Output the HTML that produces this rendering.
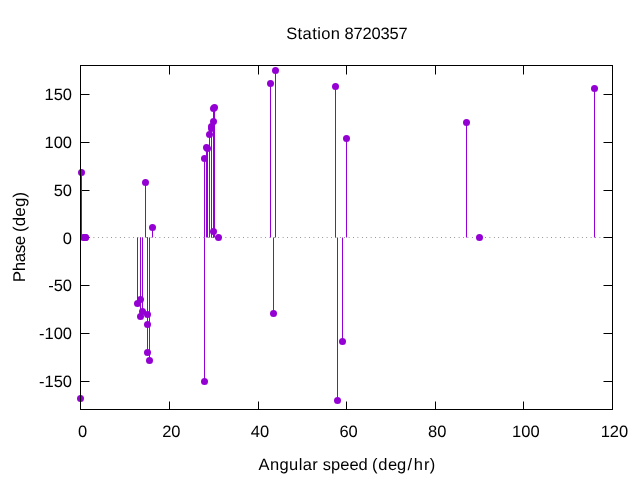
<!DOCTYPE html>
<html lang="en">
<head>
<meta charset="utf-8">
<title>Station 8720357</title>
<style>
html,body{margin:0;padding:0;background:#fff;}
body{width:640px;height:480px;overflow:hidden;}
svg{display:block;}
text{font-family:"Liberation Sans",sans-serif;font-size:16.5px;fill:#000;text-rendering:geometricPrecision;}
</style>
</head>
<body>
<svg width="640" height="480" viewBox="0 0 640 480">
<rect x="0" y="0" width="640" height="480" fill="#ffffff"/>
<g stroke="#000" stroke-width="1" fill="none">
<line x1="80.5" y1="381.5" x2="89.5" y2="381.5"/>
<line x1="612.5" y1="381.5" x2="603.5" y2="381.5"/>
<line x1="80.5" y1="333.5" x2="89.5" y2="333.5"/>
<line x1="612.5" y1="333.5" x2="603.5" y2="333.5"/>
<line x1="80.5" y1="285.5" x2="89.5" y2="285.5"/>
<line x1="612.5" y1="285.5" x2="603.5" y2="285.5"/>
<line x1="80.5" y1="237.5" x2="89.5" y2="237.5"/>
<line x1="612.5" y1="237.5" x2="603.5" y2="237.5"/>
<line x1="80.5" y1="190.5" x2="89.5" y2="190.5"/>
<line x1="612.5" y1="190.5" x2="603.5" y2="190.5"/>
<line x1="80.5" y1="142.5" x2="89.5" y2="142.5"/>
<line x1="612.5" y1="142.5" x2="603.5" y2="142.5"/>
<line x1="80.5" y1="94.5" x2="89.5" y2="94.5"/>
<line x1="612.5" y1="94.5" x2="603.5" y2="94.5"/>
<line x1="80.5" y1="409.5" x2="80.5" y2="401.5"/>
<line x1="80.5" y1="65.5" x2="80.5" y2="74.5"/>
<line x1="169.5" y1="409.5" x2="169.5" y2="401.5"/>
<line x1="169.5" y1="65.5" x2="169.5" y2="74.5"/>
<line x1="258.5" y1="409.5" x2="258.5" y2="401.5"/>
<line x1="258.5" y1="65.5" x2="258.5" y2="74.5"/>
<line x1="346.5" y1="409.5" x2="346.5" y2="401.5"/>
<line x1="346.5" y1="65.5" x2="346.5" y2="74.5"/>
<line x1="435.5" y1="409.5" x2="435.5" y2="401.5"/>
<line x1="435.5" y1="65.5" x2="435.5" y2="74.5"/>
<line x1="523.5" y1="409.5" x2="523.5" y2="401.5"/>
<line x1="523.5" y1="65.5" x2="523.5" y2="74.5"/>
<line x1="612.5" y1="409.5" x2="612.5" y2="401.5"/>
<line x1="612.5" y1="65.5" x2="612.5" y2="74.5"/>
</g>
<line x1="80.5" y1="237.5" x2="612.5" y2="237.5" stroke="#000" stroke-opacity="0.58" stroke-width="1" stroke-dasharray="0.7 3.7" stroke-dashoffset="0.15"/>
<g stroke="#9400d3" stroke-width="1" fill="none">
<line x1="80.5" y1="237.5" x2="80.5" y2="398.5"/>
<line x1="81.5" y1="237.5" x2="81.5" y2="172.5"/>
<line x1="137.5" y1="237.5" x2="137.5" y2="303.5"/>
<line x1="140.5" y1="237.5" x2="140.5" y2="299.5"/>
<line x1="140.5" y1="237.5" x2="140.5" y2="316.5"/>
<line x1="142.5" y1="237.5" x2="142.5" y2="311.5"/>
<line x1="145.5" y1="237.5" x2="145.5" y2="182.5"/>
<line x1="147.5" y1="237.5" x2="147.5" y2="314.5"/>
<line x1="147.5" y1="237.5" x2="147.5" y2="352.5"/>
<line x1="147.5" y1="237.5" x2="147.5" y2="324.5"/>
<line x1="149.5" y1="237.5" x2="149.5" y2="360.5"/>
<line x1="152.5" y1="237.5" x2="152.5" y2="227.5"/>
<line x1="204.5" y1="237.5" x2="204.5" y2="158.5"/>
<line x1="204.5" y1="237.5" x2="204.5" y2="381.5"/>
<line x1="206.5" y1="237.5" x2="206.5" y2="147.5"/>
<line x1="207.5" y1="237.5" x2="207.5" y2="148.5"/>
<line x1="209.5" y1="237.5" x2="209.5" y2="134.5"/>
<line x1="211.5" y1="237.5" x2="211.5" y2="126.5"/>
<line x1="211.5" y1="237.5" x2="211.5" y2="128.5"/>
<line x1="213.5" y1="237.5" x2="213.5" y2="121.5"/>
<line x1="213.5" y1="237.5" x2="213.5" y2="108.5"/>
<line x1="213.5" y1="237.5" x2="213.5" y2="231.5"/>
<line x1="214.5" y1="237.5" x2="214.5" y2="107.5"/>
<line x1="270.5" y1="237.5" x2="270.5" y2="83.5"/>
<line x1="273.5" y1="237.5" x2="273.5" y2="313.5"/>
<line x1="275.5" y1="237.5" x2="275.5" y2="70.5"/>
<line x1="335.5" y1="237.5" x2="335.5" y2="86.5"/>
<line x1="337.5" y1="237.5" x2="337.5" y2="400.5"/>
<line x1="342.5" y1="237.5" x2="342.5" y2="341.5"/>
<line x1="346.5" y1="237.5" x2="346.5" y2="138.5"/>
<line x1="466.5" y1="237.5" x2="466.5" y2="122.5"/>
<line x1="594.5" y1="237.5" x2="594.5" y2="88.5"/>
</g>
<g fill="#9400d3" stroke="none">
<circle cx="80.5" cy="398.5" r="3.5"/>
<circle cx="81.5" cy="172.5" r="3.5"/>
<circle cx="83.5" cy="237.5" r="3.5"/>
<circle cx="85.5" cy="237.5" r="3.5"/>
<circle cx="85.5" cy="237.5" r="3.5"/>
<circle cx="137.5" cy="303.5" r="3.5"/>
<circle cx="140.5" cy="299.5" r="3.5"/>
<circle cx="140.5" cy="316.5" r="3.5"/>
<circle cx="142.5" cy="311.5" r="3.5"/>
<circle cx="145.5" cy="182.5" r="3.5"/>
<circle cx="147.5" cy="314.5" r="3.5"/>
<circle cx="147.5" cy="352.5" r="3.5"/>
<circle cx="147.5" cy="324.5" r="3.5"/>
<circle cx="149.5" cy="360.5" r="3.5"/>
<circle cx="152.5" cy="227.5" r="3.5"/>
<circle cx="204.5" cy="158.5" r="3.5"/>
<circle cx="204.5" cy="381.5" r="3.5"/>
<circle cx="206.5" cy="147.5" r="3.5"/>
<circle cx="207.5" cy="148.5" r="3.5"/>
<circle cx="209.5" cy="134.5" r="3.5"/>
<circle cx="211.5" cy="126.5" r="3.5"/>
<circle cx="211.5" cy="128.5" r="3.5"/>
<circle cx="213.5" cy="121.5" r="3.5"/>
<circle cx="213.5" cy="108.5" r="3.5"/>
<circle cx="213.5" cy="231.5" r="3.5"/>
<circle cx="214.5" cy="107.5" r="3.5"/>
<circle cx="218.5" cy="237.5" r="3.5"/>
<circle cx="270.5" cy="83.5" r="3.5"/>
<circle cx="273.5" cy="313.5" r="3.5"/>
<circle cx="275.5" cy="70.5" r="3.5"/>
<circle cx="335.5" cy="86.5" r="3.5"/>
<circle cx="337.5" cy="400.5" r="3.5"/>
<circle cx="342.5" cy="341.5" r="3.5"/>
<circle cx="346.5" cy="138.5" r="3.5"/>
<circle cx="466.5" cy="122.5" r="3.5"/>
<circle cx="479.5" cy="237.5" r="3.5"/>
<circle cx="594.5" cy="88.5" r="3.5"/>
</g>
<g stroke="#000" stroke-width="1" fill="none">
<rect x="80.5" y="65.5" width="532.0" height="344.0"/>
</g>
<text x="72" y="386.93" text-anchor="end">-150</text>
<text x="72" y="339.16" text-anchor="end">-100</text>
<text x="72" y="291.38" text-anchor="end">-50</text>
<text x="72" y="243.60" text-anchor="end">0</text>
<text x="72" y="195.82" text-anchor="end">50</text>
<text x="72" y="148.04" text-anchor="end">100</text>
<text x="72" y="100.27" text-anchor="end">150</text>
<text x="82.70" y="437.1" text-anchor="middle">0</text>
<text x="171.32" y="437.1" text-anchor="middle">20</text>
<text x="259.94" y="437.1" text-anchor="middle">40</text>
<text x="348.56" y="437.1" text-anchor="middle">60</text>
<text x="437.18" y="437.1" text-anchor="middle">80</text>
<text x="525.80" y="437.1" text-anchor="middle">100</text>
<text x="614.42" y="437.1" text-anchor="middle">120</text>
<text y="38.9"><tspan x="286.2" style="letter-spacing:0.41px">Station </tspan><tspan x="344.6" style="letter-spacing:-0.2px">8720357</tspan></text>
<text y="469.8"><tspan x="258.6" style="letter-spacing:0.38px">Angular </tspan><tspan x="322.8">speed </tspan><tspan x="372" style="letter-spacing:0.81px" dx="0 0 -0.4 -1 0.7 0.8 0.1 -0.4">(deg/hr)</tspan></text>
<text transform="translate(24.5,237.4) rotate(-90)" style="font-size:17px"><tspan x="-44.9" style="letter-spacing:-0.42px">Phase </tspan><tspan x="5.4" style="letter-spacing:0.12px">(deg)</tspan></text>
</svg>
</body>
</html>
